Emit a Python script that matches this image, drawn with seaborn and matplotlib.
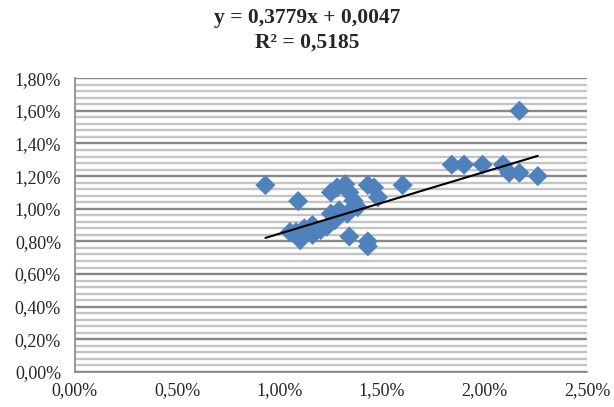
import matplotlib
matplotlib.use("Agg")
import matplotlib.pyplot as plt
import seaborn as sns
import pandas as pd
import numpy as np
from matplotlib.ticker import FuncFormatter, MultipleLocator

# values, in percent
x_pct = [0.93, 1.09, 1.05, 1.08, 1.10, 1.12, 1.16, 1.16, 1.20, 1.23,
         1.25, 1.27, 1.29, 1.25, 1.28, 1.32, 1.34, 1.36, 1.38, 1.33,
         1.34, 1.43, 1.43, 1.43, 1.46, 1.48, 1.60, 1.84, 1.90, 1.99,
         2.09, 2.12, 2.17, 2.26, 2.17]
y_pct = [1.145, 1.047, 0.857, 0.857, 0.808, 0.88, 0.90, 0.84, 0.87, 0.89,
         0.97, 0.93, 0.99, 1.10, 1.13, 1.15, 1.10, 1.05, 1.01, 0.97,
         0.83, 0.80, 0.77, 1.145, 1.13, 1.07, 1.145, 1.27, 1.27, 1.27,
         1.27, 1.22, 1.22, 1.20, 1.60]

# trendline from the chart's equation
slope = 0.3779
intercept = 0.0047
r_squared = "0,5185"

df = pd.DataFrame({"x": np.array(x_pct) / 100, "y": np.array(y_pct) / 100})

sns.set_style("white")
plt.rcParams["font.family"] = ["Liberation Serif", "DejaVu Serif"]

fig = plt.figure(figsize=(6.14, 4.07), dpi=100)
ax = fig.add_axes([0.122, 0.086, 0.834, 0.722])

# gridlines: minor light, major darker
ax.yaxis.set_major_locator(MultipleLocator(0.002))
ax.yaxis.set_minor_locator(MultipleLocator(0.0004))
ax.grid(which="minor", axis="y", color="#c4c4c4", linewidth=1.7)
ax.grid(which="major", axis="y", color="#888888", linewidth=1.7)
ax.set_axisbelow(True)

sns.scatterplot(data=df, x="x", y="y", ax=ax, marker="D", s=105,
                color="#4F81BD", edgecolor="none", zorder=3, legend=False)

xs = np.array([df["x"].min(), df["x"].max()])
sns.lineplot(x=xs, y=slope * xs + intercept, ax=ax, color="black",
             linewidth=1.5, zorder=4)

ax.set_xlim(0, 0.025)
ax.set_ylim(0, 0.018)
ax.xaxis.set_major_locator(MultipleLocator(0.005))

fmt = FuncFormatter(lambda v, p: f"{v * 100:.2f}%".replace(".", ","))
ax.xaxis.set_major_formatter(fmt)
ax.yaxis.set_major_formatter(fmt)

for side in ["top", "right"]:
    ax.spines[side].set_visible(False)
for side in ["left", "bottom"]:
    ax.spines[side].set_color("#888888")
    ax.spines[side].set_linewidth(1.2)

ax.tick_params(axis="both", which="major", labelsize=13, color="#888888",
               length=5, width=1.2, direction="out")
ax.tick_params(axis="x", which="major", direction="inout", length=8, pad=3)
ax.tick_params(which="minor", length=0)
ax.tick_params(axis="y", pad=5)
ax.set_xlabel("")
ax.set_ylabel("")

fig.text(0.5, 0.955, f"y = {str(slope).replace('.', ',')}x + {str(intercept).replace('.', ',')}",
         ha="center", va="center", fontsize=15.5, fontweight="bold")
fig.text(0.5, 0.895, f"R² = {r_squared}", ha="center", va="center",
         fontsize=15.5, fontweight="bold")

fig.savefig("out.png", dpi=100)
